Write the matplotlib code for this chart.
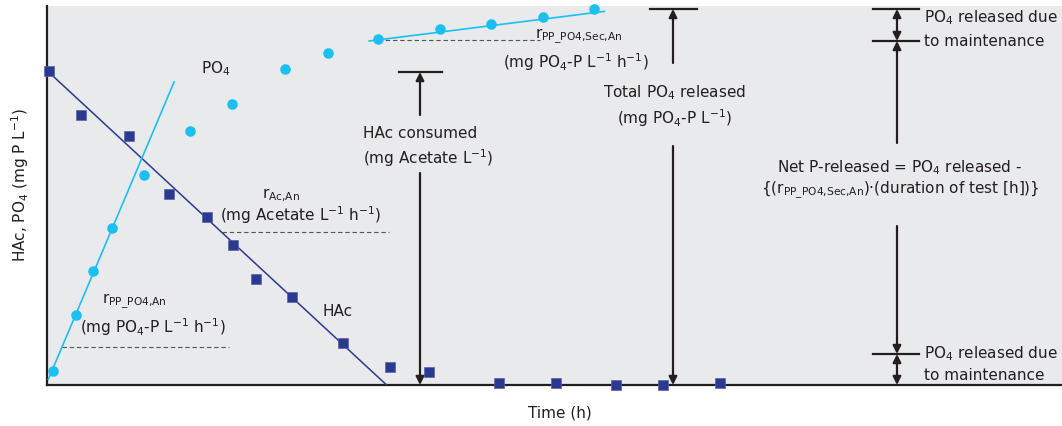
import matplotlib.pyplot as plt

plt.rcParams['font.family'] = ['DejaVu Sans']
plt.rcParams['mathtext.default'] = 'regular'

# --- data (time in h, concentration in mg/L) ---
hac_t = [0.03, 0.56, 1.36, 2.04, 2.66, 3.10, 3.48, 4.09, 4.93, 5.72,
         6.37, 7.53, 8.48, 9.48, 10.26, 11.22]
hac_c = [39.2, 33.8, 31.1, 23.9, 21.0, 17.5, 13.3, 11.0, 5.25, 2.3,
         1.6, 0.3, 0.3, 0.04, 0.04, 0.3]
po4_t = [0.095, 0.48, 0.77, 1.08, 1.62, 2.38, 3.09, 3.96, 4.69, 5.52,
         6.55, 7.40, 8.27, 9.12]
po4_c = [1.8, 8.7, 14.3, 19.6, 26.2, 31.7, 35.1, 39.5, 41.5, 43.25,
         44.5, 45.1, 46.0, 47.0]

# fitted rate lines (end points)
hac_fit_t = [0.03, 5.66]
hac_fit_c = [39.1, 0.0]
po4_fit_t = [0.022, 2.12]
po4_fit_c = [0.71, 37.9]
po4_sec_t = [5.37, 9.29]
po4_sec_c = [43.0, 46.7]

C_HAC = '#2b3990'
C_PO4 = '#1cc0f0'
C_BG = '#e9eaec'
C_TXT = '#231f20'

fig = plt.figure(figsize=(10.62, 4.26), dpi=100)
ax = fig.add_axes([47 / 1062, 41 / 426, 1015 / 1062, 379 / 426])
ax.set_facecolor(C_BG)
ax.set_xlim(0, 1015 / 60)
ax.set_ylim(0, 379 / 8)
for s in ['top', 'right']:
    ax.spines[s].set_visible(False)
for s in ['left', 'bottom']:
    ax.spines[s].set_linewidth(1.6)
    ax.spines[s].set_color(C_TXT)
ax.set_xticks([])
ax.set_yticks([])


def P(x, y):
    # pixel position of the original figure -> data coords (layout only)
    return ((x - 47) / 60, (385 - y) / 8)


# fit lines
ax.plot(hac_fit_t, hac_fit_c, color=C_HAC, lw=1.1, zorder=3)
ax.plot(po4_fit_t, po4_fit_c, color=C_PO4, lw=1.2, zorder=3)
ax.plot(po4_sec_t, po4_sec_c, color=C_PO4, lw=1.2, zorder=3)

# measured points
ax.plot(hac_t, hac_c, 's', color=C_HAC, ms=6.8, mec='#5a63a8', mew=0.5,
        clip_on=False, zorder=5)
ax.plot(po4_t, po4_c, 'o', color=C_PO4, ms=7.6, mew=0, clip_on=False, zorder=5)

# dashed guide lines
for x0, x1, y in [(62, 229, 347), (222, 389, 232), (378, 540, 40)]:
    (a, yy), (b, _) = P(x0, y), P(x1, y)
    ax.plot([a, b], [yy, yy], color='#555555', lw=0.8, ls=(0, (4, 2.5)), zorder=4)

fs = 11


def txt(x, y, s, ha='left', size=fs):
    ax.text(*P(x, y), s, ha=ha, va='center', fontsize=size, color=C_TXT, zorder=6)


txt(201, 69, 'PO$_4$')
txt(262, 195, 'r$_{Ac{,}An}$')
txt(301, 215, '(mg Acetate L$^{-1}$ h$^{-1}$)', ha='center')
txt(102, 301, 'r$_{PP\\_PO4{,}An}$')
txt(153, 327, '(mg PO$_4$-P L$^{-1}$ h$^{-1}$)', ha='center')
txt(323, 311, 'HAc')
txt(535, 36, 'r$_{PP\\_PO4{,}Sec{,}An}$')
txt(576, 62, '(mg PO$_4$-P L$^{-1}$ h$^{-1}$)', ha='center')
txt(363, 134, 'HAc consumed')
txt(363, 158, '(mg Acetate L$^{-1}$)')
txt(674, 93, 'Total PO$_4$ released', ha='center')
txt(674, 118, '(mg PO$_4$-P L$^{-1}$)', ha='center')
txt(924, 18, 'PO$_4$ released due')
txt(924, 41, 'to maintenance')
txt(924, 354, 'PO$_4$ released due')
txt(924, 376, 'to maintenance')
txt(900, 168, 'Net P-released = PO$_4$ released -', ha='center')
txt(900, 190, '{(r$_{PP\\_PO4{,}Sec{,}An}$)·(duration of test [h])}', ha='center')


def arrow(x, y_from, y_to, both=False):
    style = '<|-|>' if both else '-|>'
    ax.annotate('', xy=P(x, y_to), xytext=P(x, y_from),
                arrowprops=dict(arrowstyle=style, color=C_TXT, lw=1.6,
                                mutation_scale=12, shrinkA=0, shrinkB=0),
                zorder=6, annotation_clip=False)


def bar(x0, x1, y):
    (a, yy), (b, _) = P(x0, y), P(x1, y)
    ax.plot([a, b], [yy, yy], color=C_TXT, lw=1.6, zorder=6, clip_on=False)


# HAc consumed
bar(399, 442, 72)
arrow(420, 115, 72)
arrow(420, 173, 385)
# Total PO4 released
bar(650, 697, 9)
arrow(673, 63, 9)
arrow(673, 146, 385)
# net P released / maintenance
for y in [9, 41, 354]:
    bar(873, 919, y)
arrow(897, 9, 41, both=True)
arrow(897, 143, 41)
arrow(897, 226, 354)
arrow(897, 354, 385, both=True)

ax.set_xlabel('Time (h)', fontsize=fs, color=C_TXT)
ax.set_ylabel('HAc, PO$_4$ (mg P L$^{-1}$)', fontsize=fs, color=C_TXT)
ax.xaxis.set_label_coords((560 - 47) / 1015, (385 - 413) / 379)
ax.yaxis.set_label_coords((20 - 47) / 1015, (385 - 185) / 379)
ax.xaxis.label.set_va('center')
ax.yaxis.label.set_va('center')

fig.savefig('out.png', dpi=100)
